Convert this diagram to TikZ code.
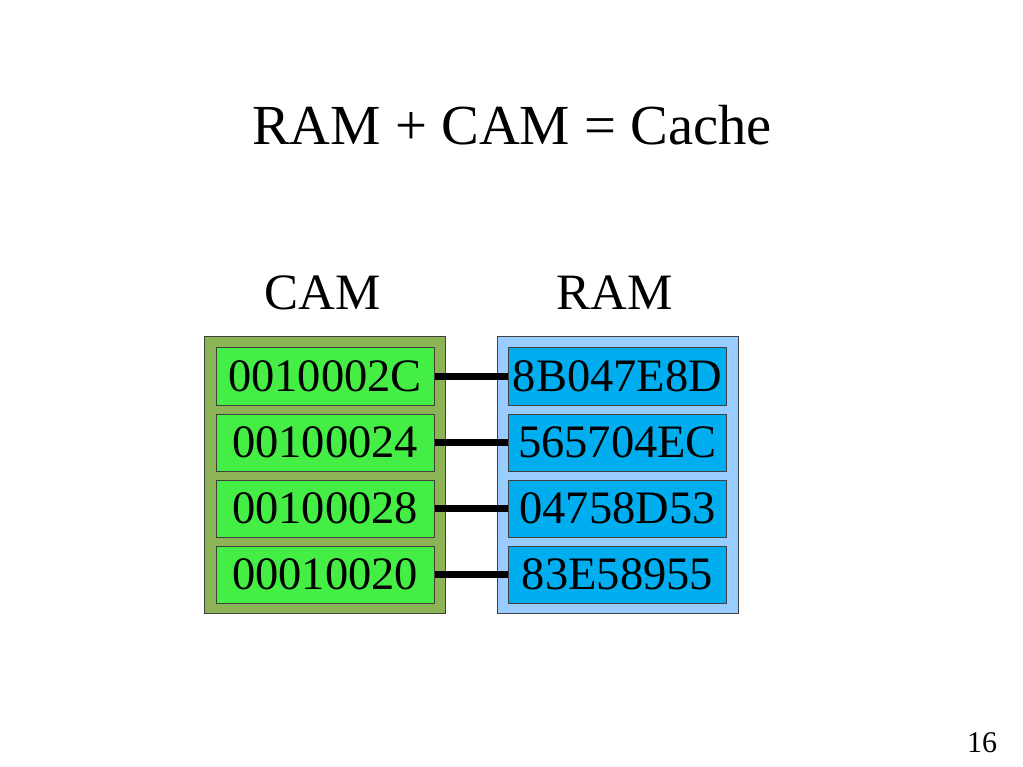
\documentclass[tikz,border=0pt]{standalone}
\usepackage{fontspec}
\setmainfont{Liberation Serif}
\definecolor{camouter}{RGB}{140,180,85}
\definecolor{caminner}{RGB}{68,238,68}
\definecolor{ramouter}{RGB}{153,204,255}
\definecolor{raminner}{RGB}{0,174,240}
\begin{document}
\begin{tikzpicture}[x=1pt,y=-1pt,
  outerbox/.style={draw=black!75,line width=1pt,inner sep=0pt,minimum width=241pt,minimum height=276pt},
  cell/.style={draw=black!75,line width=1pt,inner sep=0pt,minimum width=218pt,minimum height=57pt,font=\fontsize{46.5}{50}\selectfont},
  camcell/.style={cell,fill=caminner},
  ramcell/.style={cell,fill=raminner},
  link/.style={line width=7pt,black}]
\useasboundingbox[fill=white] (0,0) rectangle (1023,767);
\node[anchor=base,font=\fontsize{56.6}{60}\selectfont] (title) at (512,145) {RAM + CAM = Cache};
\node[anchor=base,font=\fontsize{51}{55}\selectfont] (camlabel) at (323,310) {CAM};
\node[anchor=base,font=\fontsize{51}{55}\selectfont] (ramlabel) at (615,310) {RAM};
\node[outerbox,fill=camouter] (cam) at (324.5,475) {};
\node[outerbox,fill=ramouter] (ram) at (617.5,475) {};
\node[camcell] (c1) at (325,376.5) {0010002C};
\node[camcell] (c2) at (325,442.5) {00100024};
\node[camcell] (c3) at (325,508.5) {00100028};
\node[camcell] (c4) at (325,574.5) {00010020};
\node[ramcell] (r1) at (617.5,376.5) {8B047E8D};
\node[ramcell] (r2) at (617.5,442.5) {565704EC};
\node[ramcell] (r3) at (617.5,508.5) {04758D53};
\node[ramcell] (r4) at (617.5,574.5) {83E58955};
\foreach \i in {1,...,4} \draw[link] (c\i.east) -- (r\i.west);
\node[anchor=base,font=\fontsize{30}{32}\selectfont] (page) at (982,752) {16};
\end{tikzpicture}
\end{document}
